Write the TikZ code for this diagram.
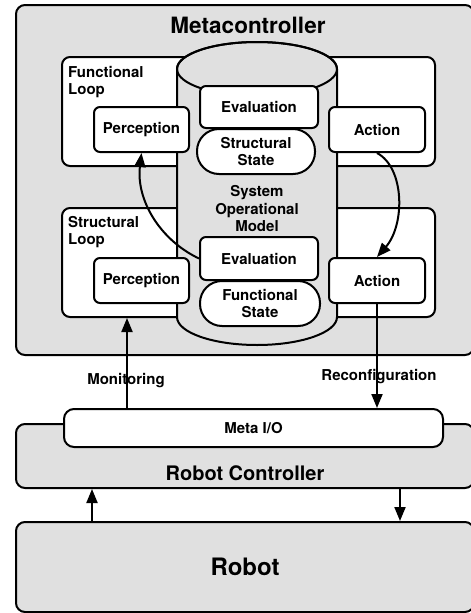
\documentclass[tikz,border=0pt]{standalone}
\usepackage{fontspec}
\setmainfont{TeX Gyre Heros}
\usetikzlibrary{arrows.meta}
\definecolor{panelgray}{RGB}{224,224,224}

\tikzset{
	panel/.style={draw, line width=2pt, rounded corners=9pt, fill=panelgray, inner sep=0pt},
	loopbox/.style={draw, line width=2pt, rounded corners=8pt, fill=white, inner sep=0pt},
	part/.style={draw, line width=2pt, rounded corners=6pt, fill=white, inner sep=0pt, align=center,
		font=\bfseries\fontsize{15}{17.5}\selectfont},
	pill/.style={part, rounded corners=22pt},
	tag/.style={inner sep=0pt, align=left, font=\bfseries\fontsize{15}{17.5}\selectfont},
	flow/.style={line width=2pt, -{Triangle[length=14pt,width=11pt]}}
}

\begin{document}
\begin{tikzpicture}[x=1pt, y=-1pt]
		%%%%% START %%%%%
		\useasboundingbox (0, 0) rectangle (471, 613);
		\clip (0, 0) rectangle (471, 613);
		
		% metacontroller
		\node[panel, minimum width=458pt, minimum height=350pt] (meta) at (245, 180) {};
		\node[font=\bfseries\fontsize{22.5}{26}\selectfont] (metatitle) at (248, 25) {Metacontroller};
		
		\node[loopbox, minimum width=373pt, minimum height=109pt] (floop) at (248.5, 111.5) {};
		\node[loopbox, minimum width=373pt, minimum height=109pt] (sloop) at (248.5, 262.5) {};
		\node[tag, anchor=north west] (floopname) at (68, 66) {Functional\\Loop};
		\node[tag, anchor=north west] (sloopname) at (68, 216) {Structural\\Loop};
		
		% system operational model
		\draw[line width=2pt, fill=panelgray] (177, 69) -- (177, 317)
			arc[start angle=180, end angle=0, x radius=80, y radius=28] -- (337, 69)
			arc[start angle=360, end angle=180, x radius=80, y radius=27] -- cycle;
		\draw[line width=2pt] (257, 69) ellipse [x radius=80, y radius=27];
		\node[tag, align=center] (model) at (257, 209) {System\\Operational\\Model};
		
		\node[part, minimum width=118pt, minimum height=42pt] (evalF) at (259, 107) {Evaluation};
		\node[pill, minimum width=118pt, minimum height=45pt] (sstate) at (256, 151.5) {Structural\\State};
		\node[part, minimum width=118pt, minimum height=43pt] (evalS) at (259, 258.5) {Evaluation};
		\node[pill, minimum width=120pt, minimum height=45pt] (fstate) at (260, 303.5) {Functional\\State};
		
		\node[part, minimum width=95pt, minimum height=45pt] (percF) at (141.5, 129.5) {Perception};
		\node[part, minimum width=96pt, minimum height=45pt] (actF) at (377, 129.5) {Action};
		\node[part, minimum width=95pt, minimum height=45pt] (percS) at (141.5, 280.5) {Perception};
		\node[part, minimum width=96pt, minimum height=45pt] (actS) at (377, 280.5) {Action};
		
		\draw[flow] (evalS.west) .. controls (160, 240) and (136, 200) .. (percF.south);
		\draw[flow] (actF.south) .. controls (405, 168) and (405, 225) .. (actS.north);
		
		% robot controller
		\node[panel, minimum width=458pt, minimum height=64pt] (ctrl) at (245, 456) {};
		\node[font=\bfseries\fontsize{20}{24}\selectfont] (ctrlname) at (245, 473) {Robot Controller};
		\node[part, rounded corners=10pt, minimum width=379pt, minimum height=38pt] (metaio) at (253.5, 428) {Meta I/O};
		
		\node[tag] (monlabel) at (126, 381) {Monitoring};
		\node[tag] (reclabel) at (379, 377) {Reconfiguration};
		\coordinate (mon) at (127, 409);
		\draw[flow] (mon) -- (mon |- sloop.south);
		\draw[flow] (actS.south) -- (actS.south |- metaio.north);
		
		% robot
		\node[panel, minimum width=458pt, minimum height=90pt, font=\bfseries\fontsize{24}{28}\selectfont] (robot) at (245, 567) {Robot};
		
		\coordinate (up) at (92, 522);
		\coordinate (down) at (400, 488);
		\draw[flow] (up) -- (up |- ctrl.south);
		\draw[flow] (down) -- (down |- robot.north);
		
		%%%%% END %%%%%
	\end{tikzpicture}
\end{document}
